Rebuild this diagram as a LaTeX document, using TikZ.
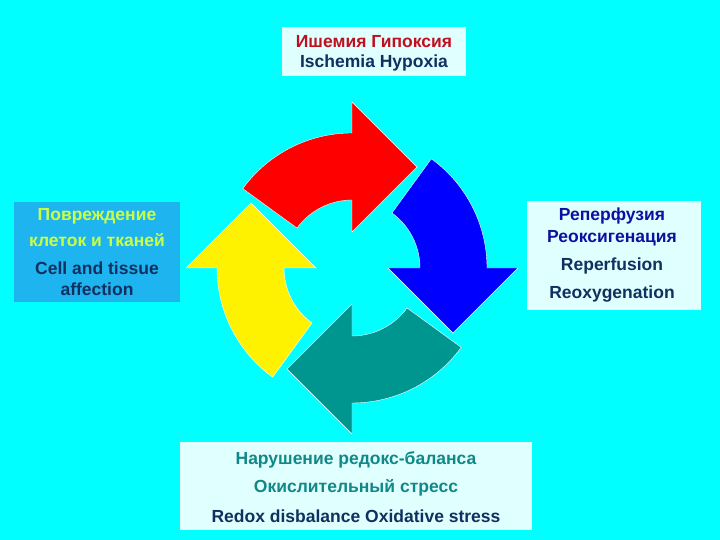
\documentclass[tikz,border=0pt]{standalone}
\usepackage{fontspec}
\setmainfont{Liberation Sans}
\definecolor{bg}{HTML}{00FFFF}
\definecolor{boxl}{HTML}{E0FFFF}
\definecolor{boxb}{HTML}{1EB4F0}
\definecolor{dred}{HTML}{C01020}
\definecolor{dblue}{HTML}{103060}
\definecolor{nblue}{HTML}{1010A0}
\definecolor{tealt}{HTML}{108888}
\definecolor{ygreen}{HTML}{CCFF44}
\definecolor{teal2}{HTML}{009690}
\begin{document}
\begin{tikzpicture}[x=1pt,y=1pt,
  box/.style={draw=none,fill=boxl},
  t/.style={font=\fontsize{17.5}{20}\selectfont\bfseries,inner sep=0pt},
  arr/.style={draw=white,line width=0.4pt}]
\useasboundingbox (0,0) rectangle (720,540);
\fill[bg] (0,0) rectangle (720,540);
\def\arrow{(144:135) arc (144:90:135) -- (90:166) -- (65,101) -- (90:36) -- (90:68) arc (90:144:68) -- cycle}
\begin{scope}[shift={(352,272)}]
  \fill[arr,fill=red] \arrow;
  \begin{scope}[rotate=-90]\fill[arr,fill=blue] \arrow;\end{scope}
  \begin{scope}[rotate=-180]\fill[arr,fill=teal2] \arrow;\end{scope}
  \begin{scope}[rotate=-270]\fill[arr,fill=yellow] \arrow;\end{scope}
\end{scope}
% boxes
\fill[box] (282,464) rectangle (466,513);
\fill[boxb] (14,238) rectangle (180,338);
\fill[box] (527,230) rectangle (701,339);
\fill[box] (180,10) rectangle (532,98);
\node[t,text=dred] (t1) at (374,498) {Ишемия Гипоксия};
\node[t,text=dblue] (t2) at (374,477) {Ischemia Hypoxia};
\node[t,text=ygreen] (l1) at (97,324) {Повреждение};
\node[t,text=ygreen] (l2) at (97,300) {клеток и тканей};
\node[t,text=dblue] (l3) at (97,272) {Cell and tissue};
\node[t,text=dblue] (l4) at (97,251) {affection};
\node[t,text=nblue] (r1) at (612,324) {Реперфузия};
\node[t,text=nblue] (r2) at (612,302) {Реоксигенация};
\node[t,text=dblue] (r3) at (612,274) {Reperfusion};
\node[t,text=dblue] (r4) at (612,246) {Reoxygenation};
\node[t,text=tealt] (b1) at (356,80) {Нарушение редокс-баланса};
\node[t,text=tealt] (b2) at (356,52) {Окислительный стресс};
\node[t,text=dblue] (b3) at (356,24) {Redox disbalance Oxidative stress};
\end{tikzpicture}
\end{document}
